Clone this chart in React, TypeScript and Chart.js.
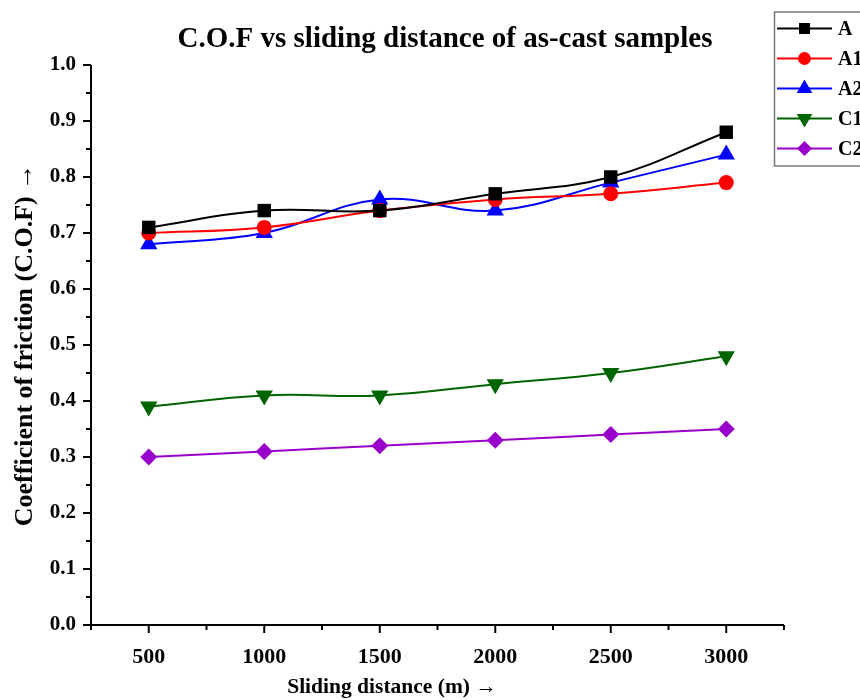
import React, { useEffect, useRef } from "react";
import { Chart, registerables } from "chart.js";

Chart.register(...registerables);

const distances = [500, 1000, 1500, 2000, 2500, 3000];
const seriesNames = ["A", "A1", "A2", "C1", "C2"];
const valuesA = [0.71, 0.74, 0.74, 0.77, 0.80, 0.88];
const valuesA1 = [0.70, 0.71, 0.74, 0.76, 0.77, 0.79];
const valuesA2 = [0.68, 0.70, 0.76, 0.74, 0.79, 0.84];
const valuesC1 = [0.39, 0.41, 0.41, 0.43, 0.45, 0.48];
const valuesC2 = [0.30, 0.31, 0.32, 0.33, 0.34, 0.35];

const titleText = "C.O.F vs sliding distance of as-cast samples";
const xTitle = "Sliding distance (m) \u2192";
const yTitle = "Coefficient of friction (C.O.F) \u2192";

const colors = ["#000000", "#ff0000", "#0000ff", "#006400", "#9900cc"];
const shapes = ["rect", "circle", "triangle", "triangle", "rectRot"];
const rotations = [0, 0, 0, 180, 0];
const radii = [9.5, 7.5, 10, 10, 8.5];

const SERIF = "'Liberation Serif', 'Times New Roman', serif";

function drawMarker(ctx: any, shape: string, rot: number, r: number, x: number, y: number, color: string) {
  ctx.save();
  ctx.fillStyle = color;
  ctx.translate(x, y);
  ctx.rotate((rot * Math.PI) / 180);
  ctx.beginPath();
  if (shape === "rect") {
    ctx.rect(-r, -r, 2 * r, 2 * r);
  } else if (shape === "circle") {
    ctx.arc(0, 0, r, 0, Math.PI * 2);
  } else if (shape === "triangle") {
    ctx.moveTo(0, -r);
    ctx.lineTo(r * 0.87, r * 0.5);
    ctx.lineTo(-r * 0.87, r * 0.5);
    ctx.closePath();
  } else if (shape === "rectRot") {
    ctx.moveTo(0, -r);
    ctx.lineTo(r, 0);
    ctx.lineTo(0, r);
    ctx.lineTo(-r, 0);
    ctx.closePath();
  }
  ctx.fill();
  ctx.restore();
}

const legendMarkerSizes = [5.5, 6.5, 9, 9, 7.5];

const decorPlugin = {
  id: "decor",
  afterDraw(chart: any) {
    const ctx = chart.ctx;
    const xs = chart.scales.x;
    const ys = chart.scales.y;
    const area = chart.chartArea;
    ctx.save();
    ctx.strokeStyle = "#000";
    ctx.lineWidth = 2;
    ctx.beginPath();
    ctx.moveTo(area.left, area.top);
    ctx.lineTo(area.left, area.bottom);
    ctx.lineTo(area.right, area.bottom);
    ctx.stroke();
    xs.ticks.forEach((t: any) => {
      const px = xs.getPixelForValue(t.value);
      const major = t.value % 500 === 0;
      ctx.beginPath();
      ctx.moveTo(px, area.bottom);
      ctx.lineTo(px, area.bottom + (major ? 8 : 5));
      ctx.stroke();
    });
    ys.ticks.forEach((t: any) => {
      const py = ys.getPixelForValue(t.value);
      const major = Math.round(t.value * 100) % 10 === 0;
      ctx.beginPath();
      ctx.moveTo(area.left, py);
      ctx.lineTo(area.left - (major ? 8 : 5), py);
      ctx.stroke();
    });
    ctx.fillStyle = "#000";
    ctx.textAlign = "center";
    ctx.textBaseline = "alphabetic";
    ctx.font = `bold 29px ${SERIF}`;
    ctx.fillText(titleText, 445, 47);
    ctx.font = `bold 21.5px ${SERIF}`;
    ctx.fillText(xTitle, 392, 693);
    ctx.save();
    ctx.translate(32, 345);
    ctx.rotate(-Math.PI / 2);
    ctx.font = `bold 26px ${SERIF}`;
    ctx.fillText(yTitle, 0, 0);
    ctx.restore();
    ctx.strokeStyle = "#777";
    ctx.lineWidth = 1.5;
    ctx.strokeRect(774.5, 12, 100, 154);
    chart.data.datasets.forEach((ds: any, i: number) => {
      const y = 28.5 + i * 30;
      ctx.strokeStyle = ds.borderColor;
      ctx.lineWidth = 2;
      ctx.beginPath();
      ctx.moveTo(777, y);
      ctx.lineTo(832, y);
      ctx.stroke();
      drawMarker(ctx, shapes[i], rotations[i], legendMarkerSizes[i], 804.5, y, ds.borderColor);
      ctx.fillStyle = "#000";
      ctx.textAlign = "left";
      ctx.textBaseline = "middle";
      ctx.font = `bold 20px ${SERIF}`;
      ctx.fillText(ds.label, 838, y + 1);
    });
    ctx.restore();
  },
};

export default function App() {
  const ref = useRef<HTMLCanvasElement>(null);
  useEffect(() => {
    const allValues = [valuesA, valuesA1, valuesA2, valuesC1, valuesC2];
    const chart = new Chart(ref.current!, {
      type: "line",
      data: {
        datasets: allValues.map((vals, i) => ({
          label: seriesNames[i],
          data: distances.map((d, j) => ({ x: d, y: vals[j] })),
          borderColor: colors[i],
          backgroundColor: colors[i],
          borderWidth: 2,
          pointStyle: shapes[i] as any,
          rotation: rotations[i],
          pointRadius: radii[i],
          pointBorderWidth: 0,
          tension: 0.4,
          fill: false,
        })),
      },
      options: {
        animation: false,
        responsive: false,
        layout: { padding: { left: 0, right: 76, top: 65, bottom: 0 } },
        plugins: { legend: { display: false }, title: { display: false }, tooltip: { enabled: false } },
        scales: {
          x: {
            type: "linear",
            min: 250,
            max: 3250,
            grid: { display: false, drawTicks: false },
            border: { display: false },
            afterFit: (s: any) => { s.height = 75; },
            ticks: {
              stepSize: 250,
              padding: 19,
              autoSkip: false,
              maxRotation: 0,
              color: "#000",
              font: { family: SERIF, size: 22, weight: "bold" },
              callback: (v: any) => (v % 500 === 0 && v >= 500 && v <= 3000 ? String(v) : ""),
            },
          },
          y: {
            min: 0,
            max: 1,
            grid: { display: false, drawTicks: false },
            border: { display: false },
            afterFit: (s: any) => { s.width = 91; },
            ticks: {
              stepSize: 0.05,
              padding: 15,
              autoSkip: false,
              color: "#000",
              font: { family: SERIF, size: 21, weight: "bold" },
              callback: (v: any) => (Math.round(v * 100) % 10 === 0 ? Number(v).toFixed(1) : ""),
            },
          },
        },
      },
      plugins: [decorPlugin],
    });
    return () => chart.destroy();
  }, []);
  return (
    <div style={{ position: "absolute", left: 0, top: 0, width: 860, height: 700, background: "#fff" }}>
      <canvas ref={ref} width={860} height={700} style={{ display: "block" }} />
    </div>
  );
}
